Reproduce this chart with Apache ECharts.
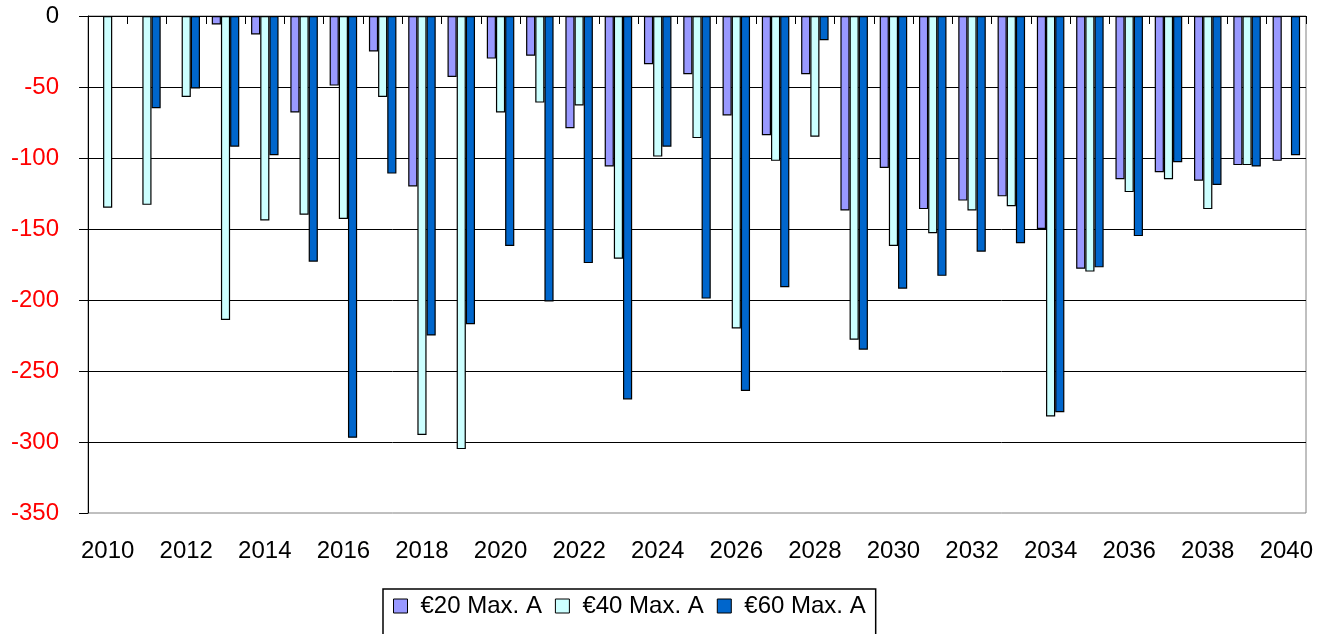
<!DOCTYPE html>
<html>
<head>
<meta charset="utf-8">
<script src="https://cdn.jsdelivr.net/npm/echarts@6/dist/echarts.min.js"></script>
<style>
  html, body { margin: 0; padding: 0; background: #fff; }
  #chart { width: 1327px; height: 634px; }
</style>
</head>
<body>
<div id="chart"></div>
<script>
// categories
const years = []
for (let y = 2010; y <= 2040; y++) years.push(String(y))

// series values
const eur20 = [null, null, null, -6, -13, -68, -49, -25, -120, -43,
  -30, -28, -79, -106, -34, -41, -70, -84, -41, -137,
  -107, -136, -130, -127, -150, -178, -115, -110, -116, -105, -102]
const eur40 = [-135, -133, -57, -214, -144, -140, -143, -57, -295, -305,
  -68, -61, -63, -171, -99, -86, -220, -102, -85, -228,
  -162, -153, -137, -134, -282, -180, -124, -115, -136, -105, null]
const eur60 = [null, -65, -51, -92, -98, -173, -297, -111, -225, -217,
  -162, -201, -174, -270, -92, -199, -264, -191, -17, -235,
  -192, -183, -166, -160, -279, -177, -155, -103, -119, -106, -98]

const seriesNames = ['€20 Max. A', '€40 Max. A', '€60 Max. A']
const seriesColors = ['#9999ff', '#ccffff', '#0066cc']

const font = 'Liberation Sans, Arial, sans-serif'
const chart = echarts.init(document.getElementById('chart'))

const makeBar = (name, data, color) => ({
  name,
  type: 'bar',
  xAxisIndex: 0,
  data,
  barGap: '0%',
  barCategoryGap: '30%',
  itemStyle: { color, borderColor: '#000', borderWidth: 1.2 }
})

chart.setOption({
  animation: false,
  backgroundColor: '#fff',
  grid: {
    left: 88,
    right: 21,
    top: 16,
    bottom: 121,
    show: true,
    borderColor: '#808080',
    borderWidth: 1
  },
  legend: {
    left: 383,
    top: 589,
    padding: [5, 10, 40, 10],
    borderColor: '#000',
    borderWidth: 1.5,
    itemWidth: 14,
    itemHeight: 14,
    itemGap: 13,
    icon: 'rect',
    itemStyle: { borderColor: '#000', borderWidth: 1 },
    textStyle: { fontFamily: font, fontSize: 24, color: '#000', padding: [0, 0, 0, 8] },
    data: seriesNames
  },
  xAxis: [
    {
      type: 'category',
      position: 'top',
      data: years,
      axisLine: { show: true, onZero: false, lineStyle: { color: '#000', width: 1 } },
      axisTick: { show: true, inside: true, length: 8, interval: 0, lineStyle: { color: '#000' } },
      axisLabel: { show: false },
      splitLine: { show: false }
    },
    {
      type: 'category',
      position: 'bottom',
      data: years,
      axisLine: { show: false },
      axisTick: { show: false },
      axisLabel: { interval: 1, margin: 26, fontFamily: font, fontSize: 24, color: '#000' }
    }
  ],
  yAxis: {
    type: 'value',
    min: -350,
    max: 0,
    interval: 50,
    axisLine: { show: true, lineStyle: { color: '#000', width: 1 } },
    axisTick: { show: true, length: 9, lineStyle: { color: '#000' } },
    axisLabel: {
      margin: 29,
      fontFamily: font,
      fontSize: 24,
      color: (value) => (Number(value) === 0 ? '#000' : '#ff0000')
    },
    splitLine: { show: true, showMinLine: false, lineStyle: { color: '#000', width: 1 } }
  },
  series: [
    makeBar(seriesNames[0], eur20, seriesColors[0]),
    makeBar(seriesNames[1], eur40, seriesColors[1]),
    makeBar(seriesNames[2], eur60, seriesColors[2])
  ]
})
</script>
</body>
</html>
